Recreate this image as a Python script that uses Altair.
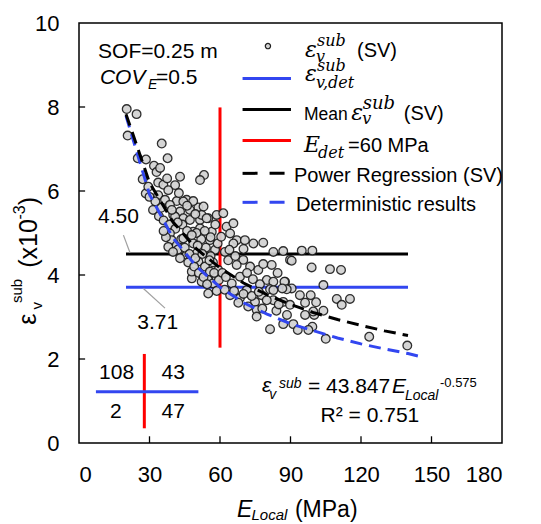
import altair as alt
import pandas as pd

# ---------------- data ----------------
sv_points = [
    # E_local < 60, eps > 3.71
    (20.3, 7.95), (24.5, 7.83), (20.7, 7.32), (35.2, 7.13), (37.7, 6.78), (25.0, 6.78),
    (28.5, 6.75), (31.9, 6.60), (33.0, 6.45), (27.1, 6.28), (43.0, 6.34), (53.2, 6.38),
    (51.5, 6.26), (33.7, 6.20), (35.9, 6.15), (28.4, 5.94), (30.0, 5.86), (40.9, 6.14),
    (38.0, 6.02), (45.8, 5.79), (50.8, 5.61), (41.6, 5.76), (58.6, 5.43), (51.5, 5.31),
    (33.7, 5.90), (36.6, 5.79), (38.7, 5.67), (44.4, 5.75), (48.6, 5.76), (47.2, 5.55),
    (43.0, 5.51), (52.2, 5.43), (55.0, 5.35), (44.4, 5.35), (40.1, 5.43), (31.5, 5.55),
    (34.0, 5.40), (36.0, 5.30), (38.5, 5.20), (41.0, 5.10), (38.7, 4.99), (39.4, 4.83),
    (38.0, 4.67), (41.6, 4.71), (43.5, 4.85), (48.6, 5.03), (51.5, 5.11), (54.3, 5.35),
    (47.2, 5.31), (53.0, 5.63), (40.9, 5.39), (44.0, 5.20), (46.0, 5.05), (44.4, 4.87),
    (48.6, 4.75), (50.1, 4.52), (45.8, 4.48), (50.8, 4.32), (53.6, 4.20), (55.7, 4.08),
    (55.0, 3.88), (55.7, 4.83), (56.5, 5.03), (57.9, 4.60), (59.3, 4.12), (48.0, 3.92),
    (48.0, 4.08), (52.2, 3.84), (42.0, 4.60), (40.0, 4.55), (43.0, 4.40), (46.5, 4.30),
    (49.0, 4.20), (51.0, 4.05), (53.0, 3.95), (57.0, 3.80), (58.5, 3.95), (56.0, 4.45),
    (54.0, 4.65), (52.0, 4.85), (50.0, 5.00), (58.0, 5.20), (57.0, 4.30), (45.0, 4.65),
    (47.0, 4.50), (49.5, 4.40), (37.0, 4.90), (36.0, 5.05), (35.0, 5.60), (32.5, 5.75),
    (42.5, 5.95), (46.0, 5.65), (49.5, 5.45), (53.5, 5.05), (56.0, 4.90), (59.0, 4.75),
    (55.5, 4.35), (52.5, 4.50), (50.5, 4.70), (48.0, 4.95), (42.0, 5.25), (39.5, 5.55),
    (37.5, 6.30), (34.5, 6.55), (29.5, 6.10), (59.5, 3.88), (57.5, 4.05), (54.5, 3.78),
    # E_local < 60, eps < 3.71
    (55.0, 3.56), (58.6, 3.62),
    # E_local > 60, eps > 3.71
    (62.8, 5.15), (61.4, 5.47), (65.7, 5.23), (67.1, 4.83), (74.2, 4.75), (60.5, 4.91),
    (82.7, 4.55), (94.8, 4.58), (64.3, 4.99), (65.7, 4.75), (70.6, 4.83), (78.4, 4.77),
    (62.1, 4.55), (86.9, 4.57), (69.9, 4.36), (89.8, 4.36), (82.0, 4.24), (67.1, 4.24),
    (72.8, 4.20), (76.3, 4.12), (68.5, 3.96), (79.9, 3.88), (65.0, 3.80), (87.7, 3.84),
    (99.3, 4.58), (90.5, 4.34), (99.0, 4.18), (111.5, 4.12), (87.4, 3.84), (104.0, 3.76),
    (106.8, 4.14), (78.4, 4.26), (82.7, 3.84), (63.5, 4.35), (61.0, 4.05), (64.0, 4.60),
    (71.5, 4.05), (74.0, 3.90), (66.5, 4.45), (62.5, 3.95), (77.0, 3.78), (70.0, 4.62),
    (84.5, 4.05),
    # E_local > 60, eps < 3.71
    (71.4, 3.64), (81.3, 3.66), (90.5, 3.68), (64.3, 3.52), (77.7, 3.52), (82.7, 3.40),
    (86.9, 3.36), (89.8, 3.29), (74.9, 3.36), (68.5, 3.45), (88.4, 3.66), (98.6, 3.52),
    (109.7, 3.43), (115.3, 3.43), (100.9, 3.35), (111.8, 3.29), (104.0, 3.15), (96.2, 3.05),
    (100.1, 3.05), (91.2, 2.83), (99.3, 2.77), (97.6, 2.69), (105.0, 2.48), (123.5, 2.53),
    (139.7, 2.32), (94.0, 3.52), (96.2, 3.34), (75.6, 3.17), (75.6, 3.01), (81.3, 2.71),
    (86.9, 2.83), (93.1, 2.69), (99.7, 3.13), (67.8, 3.34), (79.9, 3.40), (86.5, 3.68),
    (82.7, 3.64), (72.0, 3.25), (70.0, 3.55), (66.0, 3.62), (73.5, 3.50), (78.0, 3.20),
    (84.0, 3.15), (62.0, 3.65), (76.5, 3.60), (88.5, 3.05), (85.0, 3.30),
]

reg_x = [20, 30, 40, 50, 60, 70, 80, 90, 100, 110, 120, 130, 140]
reg_y = [7.83, 6.20, 5.26, 4.62, 4.17, 3.81, 3.53, 3.30, 3.10, 2.94, 2.80, 2.67, 2.56]

det_x = [20, 30, 40, 50, 60, 70, 80, 90, 100, 110, 120, 130, 140, 147]
det_y = [7.79, 5.92, 4.88, 4.20, 3.71, 3.34, 3.07, 2.84, 2.67, 2.50, 2.36, 2.24, 2.13, 2.03]

mean_sv = 4.50
eps_det = 3.71
e_det = 60
line_range = [20, 140]
red_range = [2.27, 7.99]

quad_counts = ["108", "43", "2", "47"]

x_ticks = [0, 30, 60, 90, 120, 150, 180]
y_ticks = [0, 2, 4, 6, 8, 10]

# ---------------- styling ----------------
BLUE = "#3246F0"
RED = "#FF0000"
SANS = "Liberation Sans"
SERIF = "DejaVu Serif"

xs = alt.Scale(domain=[0, 180], nice=False, zero=False)
ys = alt.Scale(domain=[0, 10], nice=False, zero=False)
X = alt.X("x:Q", scale=xs, title=None,
          axis=alt.Axis(values=x_ticks, format="d", labelPadding=21, ticks=False,
                        domain=False, grid=False, labelFont=SANS, labelFontSize=22,
                        labelColor="black"))
Y = alt.Y("y:Q", scale=ys, title=None,
          axis=alt.Axis(values=y_ticks, format="d", labelPadding=20, ticks=False,
                        domain=False, grid=False, labelFont=SANS, labelFontSize=22,
                        labelColor="black"))


def seg(rows, color, width=3, dash=None):
    df = pd.DataFrame(rows, columns=["x", "y", "x2", "y2"])
    kw = dict(color=color, strokeWidth=width)
    if dash:
        kw["strokeDash"] = dash
    return alt.Chart(df).mark_rule(**kw).encode(x=X, y=Y, x2="x2:Q", y2="y2:Q")


def txt(rows, size, font=SANS, style="normal", align="left",
        baseline="alphabetic", angle=0, color="black"):
    df = pd.DataFrame(rows, columns=["x", "y", "t"])
    kw = dict(fontSize=size, font=font, fontStyle=style, align=align,
              baseline=baseline, color=color)
    if angle:
        kw["angle"] = angle
    return alt.Chart(df).mark_text(**kw).encode(x=X, y=Y, text="t:N")


pts_df = pd.DataFrame(sv_points, columns=["x", "y"])
reg_df = pd.DataFrame({"x": reg_x, "y": reg_y})
det_df = pd.DataFrame({"x": det_x, "y": det_y})

layers = []

# inward ticks
layers.append(seg([(t, 0, t, 0.16) for t in x_ticks[1:-1]], "black", 1.3))
layers.append(seg([(0, t, 2.6, t) for t in y_ticks[1:-1]], "black", 1.3))

# solid reference lines (under the points)
layers.append(seg([(line_range[0], mean_sv, line_range[1], mean_sv)], "black", 3))
layers.append(seg([(line_range[0], eps_det, line_range[1], eps_det)], BLUE, 3))
layers.append(seg([(e_det, red_range[0], e_det, red_range[1])], RED, 3))

# scatter
layers.append(alt.Chart(pts_df).mark_circle(
    size=75, color="#D2D2D2", opacity=0.92, stroke="#1e1e1e", strokeWidth=1.3
).encode(x=X, y=Y))

# dashed curves
layers.append(alt.Chart(det_df).mark_line(color=BLUE, strokeWidth=3, strokeDash=[12, 7])
              .encode(x=X, y=Y))
layers.append(alt.Chart(reg_df).mark_line(color="black", strokeWidth=3, strokeDash=[12, 7])
              .encode(x=X, y=Y))

# leader lines and labels for the horizontal lines
layers.append(seg([(18.9, 4.95, 21.7, 4.53), (27.4, 3.68, 36.6, 3.21)], "#A0A0A0", 1.2))
layers.append(txt([(16.8, 5.37, f"{mean_sv:.2f}"), (33.5, 2.85, f"{eps_det:.2f}")],
                  21, align="center", baseline="middle"))

# quadrant counts inset
layers.append(seg([(27.8, 0.35, 27.8, 2.12)], RED, 3))
layers.append(seg([(7.2, 1.22, 50.8, 1.22)], BLUE, 3))
layers.append(txt([(16.0, 1.66, quad_counts[0]), (40.1, 1.66, quad_counts[1]),
                   (15.7, 0.75, quad_counts[2]), (40.1, 0.75, quad_counts[3])],
                  21, align="center", baseline="middle"))

# SOF / COV text
layers.append(txt([(8.1, 9.16, "SOF=0.25 m"), (32.8, 8.55, "=0.5")], 21))
layers.append(txt([(8.9, 8.55, "COV")], 21, style="italic"))
layers.append(txt([(29.4, 8.43, "E")], 14, style="italic"))

# legend
layers.append(alt.Chart(pd.DataFrame({"x": [80.4], "y": [9.45]})).mark_circle(
    size=28, color="#D2D2D2", opacity=1, stroke="#1e1e1e", strokeWidth=1.2
).encode(x=X, y=Y))
layers.append(seg([(69.6, 8.68, 90.2, 8.68)], BLUE, 3))
layers.append(seg([(69.6, 7.94, 90.2, 7.94)], "black", 3))
layers.append(seg([(69.6, 7.20, 90.2, 7.20)], RED, 3))
layers.append(seg([(69.6, 6.42, 90.2, 6.42)], "black", 3, [15, 12]))
layers.append(seg([(69.6, 5.73, 90.2, 5.73)], BLUE, 3, [15, 12]))

layers.append(txt([(96.2, 9.19, "ε"), (96.2, 8.62, "ε"), (115.9, 7.69, "ε"),
                   (95.7, 6.93, "E")], 22, font=SERIF, style="italic"))
layers.append(txt([(101.3, 9.46, "sub"), (100.8, 9.06, "v"),
                   (101.3, 8.86, "sub"), (100.8, 8.46, "v,det"),
                   (120.5, 7.60, "v"),
                   (101.7, 6.79, "det")], 16, font=SERIF, style="italic"))
layers.append(txt([(120.7, 7.95, "sub")], 18, font=SERIF, style="italic"))
layers.append(txt([(118.3, 9.19, "(SV)"), (138.2, 7.69, "(SV)"),
                   (114.5, 6.93, "=60 MPa"), (91.5, 6.22, "Power Regression (SV)"),
                   (92.3, 5.52, "Deterministic results")], 20))
layers.append(txt([(95.7, 7.69, "Mean")], 17.5))

# regression equation
layers.append(txt([(77.9, 1.21, "ε"), (133.2, 1.19, "E")], 21, style="italic"))
layers.append(txt([(81.0, 1.05, "v"), (85.1, 1.31, "sub"), (138.7, 1.02, "Local")],
                  14, style="italic"))
layers.append(txt([(97.4, 1.19, "= 43.847")], 21))
layers.append(txt([(153.6, 1.33, "-0.575")], 13))
layers.append(txt([(123.8, 0.51, "R² = 0.751")], 21, align="center"))

# x-axis title
layers.append(txt([(67.2, -1.76, "E")], 23, style="italic"))
layers.append(txt([(73.4, -1.83, "Local")], 15, style="italic"))
layers.append(txt([(91.9, -1.76, "(MPa)")], 23))

# y-axis title (rotated)
layers.append(txt([(-18.1, 2.95, "ε"), (-17.9, 4.75, "(x10"), (-17.9, 5.76, ")")],
                  25, align="center", angle=270))
layers.append(txt([(-15.7, 3.27, "v"), (-24.3, 3.62, "sub")],
                  15, align="center", angle=270))
layers.append(txt([(-23.0, 5.49, "-3")], 16, align="center", angle=270))

chart = alt.layer(*layers).properties(
    width=423, height=420,
    background="white",
    autosize=alt.AutoSizeParams(type="none"),
    padding={"left": 71, "top": 15, "right": 31, "bottom": 80},
).configure_view(
    stroke="black", strokeWidth=1.5
)

chart.save("out.html", embed_options={"renderer": "svg", "actions": False})
